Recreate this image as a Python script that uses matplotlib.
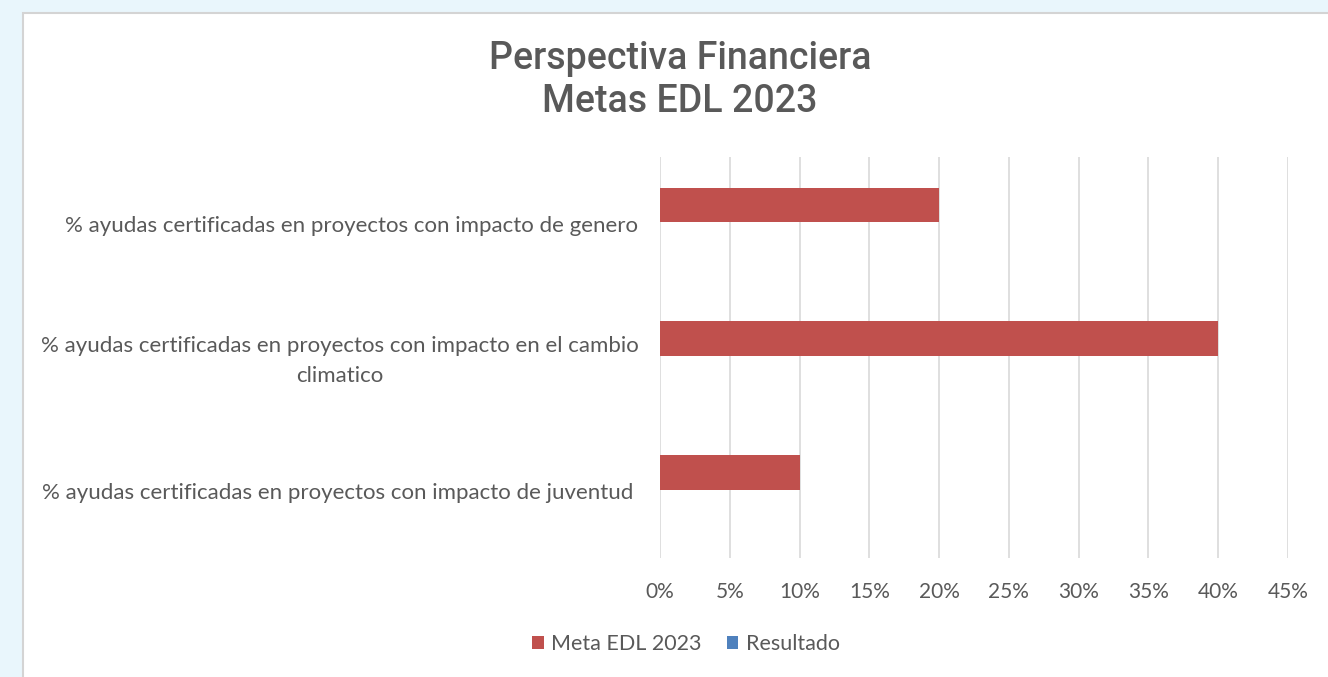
import matplotlib
matplotlib.use("Agg")
import matplotlib.pyplot as plt
from matplotlib.patches import Rectangle
from matplotlib.transforms import ScaledTranslation
import numpy as np

categories = [
    "% ayudas certificadas en proyectos con impacto de genero",
    "% ayudas certificadas en proyectos con impacto en el cambio\nclimatico",
    "% ayudas certificadas en proyectos con impacto de juventud",
]
meta_edl_2023 = [20, 40, 10]
resultado = [0, 0, 0]
series_names = ["Meta EDL 2023", "Resultado"]
xticks = [0, 5, 10, 15, 20, 25, 30, 35, 40, 45]

W, H = 1328, 677
fig = plt.figure(figsize=(W / 100, H / 100), dpi=100)
fig.patch.set_facecolor("#E9F6FC")
bg = Rectangle((23 / W, -0.01), 1.0, 1 - 13 / H + 0.01, transform=fig.transFigure,
               facecolor="white", edgecolor="#D4D4D4", linewidth=1.5, zorder=-10)
fig.patches.append(bg)

ax = fig.add_axes([660 / W, 1 - 558 / H, (1288 - 660) / W, (558 - 157) / H])
ax.set_zorder(5)
ax.set_facecolor("none")
txt = "#595959"
font = "Lato"

y = np.arange(len(categories))
h = 0.26
ax.barh(y - h / 2 - 0.01, meta_edl_2023, height=h, color="#C0504D", label=series_names[0], zorder=3)
ax.barh(y + h / 2, resultado, height=h, color="#4F81BD", label=series_names[1], zorder=3)

ax.set_ylim(len(categories) - 0.5, -0.5)
ax.set_xlim(0, 45)
ax.set_xticks(xticks)
ax.set_xticklabels([f"{t}%" for t in xticks], fontsize=15, color=txt, family=font)
ax.set_yticks(y)
ax.set_yticklabels(categories, fontsize=16, color=txt, family=font, ha="center",
                   linespacing=1.65)
ax.tick_params(axis="y", length=0, pad=222)
ax.tick_params(axis="x", length=0, pad=17)
ax.grid(axis="x", color="#D9D9D9", linewidth=1.2, zorder=0)
for s in ax.spines.values():
    s.set_visible(False)

labels = ax.get_yticklabels()
for lbl, (dx, dy) in zip(labels, [(0, 0), (-12, 4), (-14, 0)]):
    lbl.set_transform(lbl.get_transform() + ScaledTranslation(dx / 100, dy / 100, fig.dpi_scale_trans))

fig.text(680 / W, 1 - 80 / H, "Perspectiva Financiera\nMetas EDL 2023", ha="center", va="center",
         fontsize=27, color=txt, family="Roboto", fontweight="medium", linespacing=1.22)

leg = fig.legend(loc="center", bbox_to_anchor=(686 / W, 1 - 644 / H), ncol=2, frameon=False,
                 prop={"family": font, "size": 15.5}, handlelength=0.55, handleheight=0.6,
                 handletextpad=0.35, columnspacing=1.15)
for t in leg.get_texts():
    t.set_color(txt)

fig.savefig("out.png", dpi=100, facecolor=fig.get_facecolor())
